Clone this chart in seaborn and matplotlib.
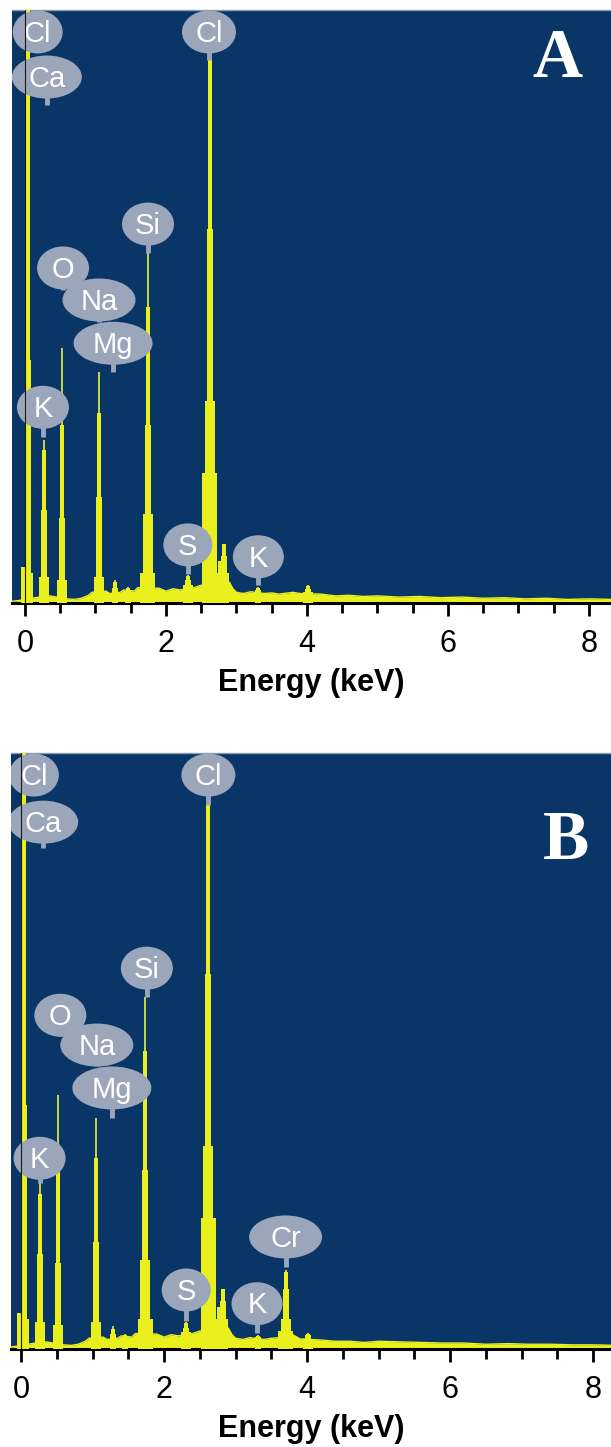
import numpy as np
import matplotlib
matplotlib.use("Agg")
import matplotlib.pyplot as plt
from matplotlib.patches import Ellipse
from matplotlib.ticker import MultipleLocator
import seaborn as sns

# ---- values (energy in keV, intensity in % of panel height) ----
# each peak: heights of its thin tip, narrow core, mid body, lower body and foot
peak_kev_a = [-0.03, 0.04, 0.27, 0.52, 1.05, 1.28, 1.46, 1.74, 2.31, 2.62, 2.77, 2.82, 3.31, 4.01]
peak_tip_a = [6.0, 110, 27.5, 43.0, 39.0, 3.9, 2.7, 59.0, 4.7, 92.0, 7.0, 10.0, 2.7, 3.0]
peak_core_a = [6.0, 110, 25.8, 30.0, 32.0, 3.5, 2.5, 50.0, 4.5, 92.0, 7.0, 10.0, 2.5, 2.8]
peak_mid_a = [0.0, 41.0, 15.7, 14.3, 17.9, 2.5, 2.0, 30.0, 3.8, 63.0, 5.0, 8.0, 2.2, 2.4]
peak_low_a = [0.0, 5.0, 4.4, 3.9, 4.4, 0.0, 0.0, 15.0, 3.0, 34.0, 0.0, 5.0, 0.0, 1.8]
peak_foot_a = [0.0, 0.0, 0.0, 0.0, 0.0, 0.0, 0.0, 5.0, 0.0, 22.0, 0.0, 0.0, 0.0, 0.0]

peak_kev_b = [-0.03, 0.04, 0.27, 0.52, 1.05, 1.28, 1.46, 1.74, 2.31, 2.62, 2.77, 2.83, 3.31, 3.70, 4.01]
peak_tip_b = [6.0, 110, 28.0, 42.6, 38.8, 3.8, 2.6, 59.0, 4.5, 91.5, 7.0, 10.0, 2.3, 13.3, 2.7]
peak_core_b = [6.0, 110, 26.0, 30.0, 32.0, 3.4, 2.4, 50.0, 4.3, 91.5, 7.0, 10.0, 2.2, 13.0, 2.6]
peak_mid_b = [0.0, 41.0, 16.0, 14.5, 18.0, 2.5, 2.0, 30.0, 3.6, 63.0, 5.0, 8.0, 2.0, 10.0, 2.3]
peak_low_b = [0.0, 5.0, 4.5, 4.0, 4.5, 0.0, 0.0, 15.0, 2.8, 34.0, 0.0, 5.0, 0.0, 5.0, 1.7]
peak_foot_b = [0.0, 0.0, 0.0, 0.0, 0.0, 0.0, 0.0, 5.0, 0.0, 22.0, 0.0, 0.0, 0.0, 3.0, 0.0]

# background continuum between the peaks
base_kev = [-0.18, -0.1, 0.0, 0.1, 0.2, 0.35, 0.45, 0.6, 0.7, 0.8, 0.9, 0.95, 1.15, 1.2,
            1.35, 1.4, 1.55, 1.6, 1.9, 2.0, 2.1, 2.2, 2.4, 2.5, 2.9, 2.95, 3.0, 3.1, 3.2,
            3.4, 3.5, 3.6, 3.8, 3.9, 4.2, 4.4, 4.6, 4.8, 5.0, 5.3, 5.6, 5.9, 6.2, 6.5,
            6.8, 7.1, 7.4, 7.7, 8.0, 8.35]
base_a = [0.3, 0.4, 0.6, 0.8, 1.0, 1.2, 1.0, 0.7, 0.6, 0.8, 1.3, 1.8, 2.0, 1.6,
          1.8, 2.2, 2.0, 2.6, 2.5, 2.0, 2.4, 2.2, 2.6, 3.0, 3.5, 2.4, 1.8, 1.6, 1.9,
          1.6, 1.7, 1.5, 1.8, 1.6, 1.5, 1.2, 1.3, 1.1, 1.2, 1.0, 1.1, 0.9, 1.0, 0.8,
          0.9, 0.7, 0.8, 0.6, 0.7, 0.6]
base_b = [0.3, 0.4, 0.6, 0.8, 1.0, 1.2, 1.0, 0.7, 0.6, 0.8, 1.3, 1.8, 2.0, 1.6,
          1.8, 2.2, 2.0, 2.6, 2.5, 2.0, 2.4, 2.2, 2.6, 3.0, 3.5, 2.4, 1.8, 1.6, 1.9,
          1.6, 1.8, 1.9, 2.4, 1.7, 1.5, 1.3, 1.3, 1.1, 1.3, 1.2, 1.1, 1.0, 1.0, 0.8,
          0.9, 0.8, 0.8, 0.7, 0.7, 0.6]

# element labels: name, energy, label centre (%), label width (px), stem end (%)
lab_name_a = ["Cl", "Ca", "Cl", "Si", "O", "Na", "Mg", "K", "S", "K"]
lab_kev_a = [0.18, 0.31, 2.61, 1.745, 0.54, 1.05, 1.25, 0.255, 2.31, 3.31]
lab_y_a = [96.3, 88.7, 96.3, 63.9, 56.5, 51.1, 43.8, 33.0, 9.8, 7.8]
lab_w_a = [50, 70, 54, 52, 52, 73, 79, 52, 49, 51]
lab_stem_a = [96.3, 84.0, 91.6, 59.0, 52.8, 47.4, 39.0, 28.0, 4.9, 3.0]

lab_name_b = ["Cl", "Ca", "Cl", "Si", "O", "Na", "Mg", "K", "Cr", "S", "K"]
lab_kev_b = [0.18, 0.31, 2.62, 1.76, 0.55, 1.06, 1.27, 0.26, 3.70, 2.31, 3.30]
lab_y_b = [96.3, 88.4, 96.3, 63.9, 56.0, 51.0, 43.8, 32.0, 18.8, 9.9, 7.6]
lab_w_b = [50, 70, 54, 52, 52, 73, 79, 52, 73, 49, 51]
lab_stem_b = [96.3, 84.0, 91.3, 59.0, 52.5, 47.4, 38.8, 27.9, 13.8, 4.7, 2.7]

NAVY = "#0a3567"
YELLOW = "#e9f01e"
TIP = "#c2d04a"
BADGE = "#9ba6ba"
level_px = [2, 4, 6, 10, 15]

sns.set_theme(style="white")
plt.rcParams["font.family"] = ["Liberation Sans", "DejaVu Sans"]

W, H = 611, 1447
fig = plt.figure(figsize=(W / 100, H / 100), dpi=100)


def draw_panel(rect, xlim, peaks, base, labels, letter, letter_xy):
    ax = fig.add_axes([rect[0] / W, 1 - rect[3] / H, (rect[2] - rect[0]) / W, (rect[3] - rect[1]) / H])
    ax.set_facecolor(NAVY)
    ax.set_xlim(*xlim)
    ax.set_ylim(0, 100)
    kx = (xlim[1] - xlim[0]) / (rect[2] - rect[0])
    ky = 100 / (rect[3] - rect[1])

    # continuum
    ax.fill_between(base_kev, 0, base, color=YELLOW, lw=0, zorder=2)
    sns.lineplot(x=base_kev, y=base, ax=ax, color=YELLOW, lw=1, zorder=2)

    # peaks as stacked towers
    kev, tip, core, mid, low, foot = peaks
    for i, e in enumerate(kev):
        heights = [tip[i], core[i], mid[i], low[i], foot[i]]
        for h, wpx in zip(heights, level_px):
            if h > 0:
                ax.bar(e, h, width=wpx * kx, color=YELLOW if wpx > 2 else TIP,
                       lw=0, zorder=3)

    ax.axvline(0, color="#1a1a1a", lw=0.8, zorder=8)

    names, lx, ly, lw_, ls = labels
    for n, x, y, wpx, s in zip(names, lx, ly, lw_, ls):
        if s < y:
            ax.plot([x, x], [s, y], color=BADGE, lw=3.5, solid_capstyle="butt", zorder=5)
        ax.add_patch(Ellipse((x, y), wpx * kx, 43 * ky, fc=BADGE, ec="none", zorder=5))
        ax.text(x, y - 0.3, n, color="white", fontsize=21, ha="center", va="center", zorder=6)

    ax.text(letter_xy[0], letter_xy[1], letter, transform=ax.transAxes, color="white",
            fontsize=50, family="Liberation Serif", fontweight="bold",
            ha="center", va="center", zorder=9)

    for side in ["left", "right"]:
        ax.spines[side].set_visible(False)
    ax.spines["top"].set_color("#8a9bb0")
    ax.spines["top"].set_linewidth(1)
    ax.spines["bottom"].set_color("black")
    ax.spines["bottom"].set_linewidth(2.2)
    ax.set_xticks([0, 2, 4, 6, 8])
    ax.xaxis.set_minor_locator(MultipleLocator(0.5))
    ax.set_yticks([])
    ax.tick_params(axis="x", which="major", direction="out", length=9, width=2,
                   color="black", labelcolor="black", pad=10, labelsize=22, bottom=True)
    ax.tick_params(axis="x", which="minor", direction="out", length=7, width=2,
                   color="black", bottom=True)
    ax.set_xlabel("Energy (keV)", fontsize=22, fontweight="bold", color="black", labelpad=6)
    ax.set_ylabel("")
    return ax


draw_panel((12, 10, 611, 603), (-0.184, 8.312),
           (peak_kev_a, peak_tip_a, peak_core_a, peak_mid_a, peak_low_a, peak_foot_a),
           base_a, (lab_name_a, lab_kev_a, lab_y_a, lab_w_a, lab_stem_a), "A", (0.91, 0.915))
draw_panel((11, 753, 611, 1349), (-0.14, 8.25),
           (peak_kev_b, peak_tip_b, peak_core_b, peak_mid_b, peak_low_b, peak_foot_b),
           base_b, (lab_name_b, lab_kev_b, lab_y_b, lab_w_b, lab_stem_b), "B", (0.925, 0.85))

fig.savefig("out.png", dpi=100)
